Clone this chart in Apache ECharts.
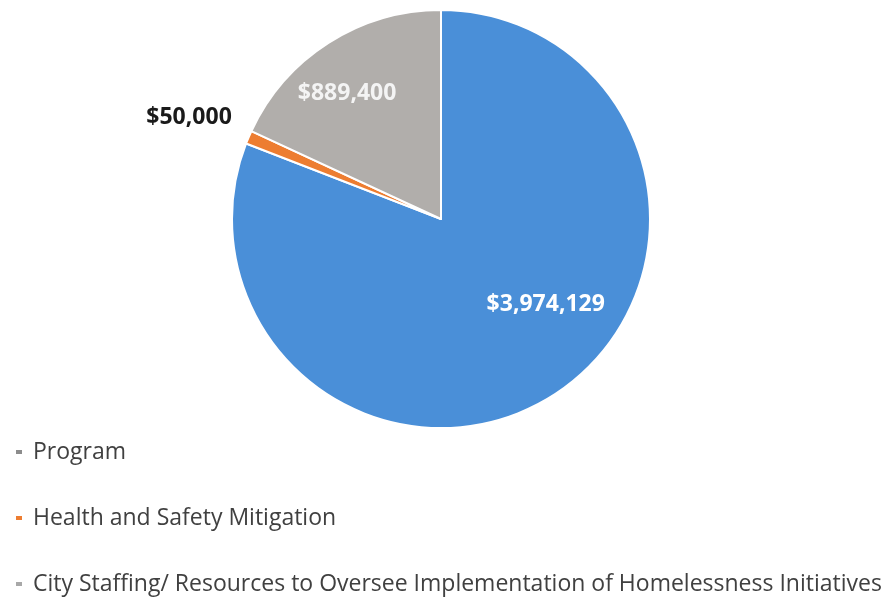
<!DOCTYPE html>
<html>
<head>
<meta charset="utf-8">
<script src="https://cdn.jsdelivr.net/npm/echarts@6/dist/echarts.min.js"></script>
<style>
  html, body { margin: 0; padding: 0; background: #ffffff; }
  #chart { width: 886px; height: 601px; }
</style>
</head>
<body>
<div id="chart"></div>
<script>
// Funding categories and amounts (USD)
const categories = [
  'Program',
  'Health and Safety Mitigation',
  'City Staffing/ Resources to Oversee Implementation of Homelessness Initiatives'
];
const amounts = [3974129, 50000, 889400];

const sliceColors = ['#4a8fd8', '#ed7d31', '#b1aeab'];
const legendColors = ['#8c8c8c', '#ed7d31', '#a8a8a8'];
const labelColors = ['#ffffff', '#1a1a1a', '#f4f4f4'];
// label nudges from the default inside position
const labelShift = [[44, -3], [-153, -60], [-36, -35]];

const fontFamily = '"Open Sans", "Noto Sans", sans-serif';

function money(v) {
  return '$' + v.toString().replace(/\B(?=(\d{3})+(?!\d))/g, ',');
}

const chart = echarts.init(document.getElementById('chart'), null, { renderer: 'canvas' });

chart.setOption({
  animation: false,
  backgroundColor: '#ffffff',
  legend: {
    orient: 'vertical',
    left: 14,
    top: 439,
    height: 200,
    width: 880,
    padding: 0,
    itemWidth: 8,
    itemHeight: 6,
    itemGap: 40,
    icon: 'rect',
    textStyle: {
      fontFamily: fontFamily,
      fontSize: 23,
      color: '#404040',
      lineHeight: 26,
      padding: [0, 0, 0, 5]
    },
    data: categories.map((name, i) => ({
      name: name,
      itemStyle: { color: legendColors[i] }
    }))
  },
  series: [{
    type: 'pie',
    center: [441, 219],
    radius: [0, 209],
    startAngle: 90,
    clockwise: true,
    avoidLabelOverlap: false,
    itemStyle: { borderColor: '#ffffff', borderWidth: 2 },
    label: {
      show: true,
      position: 'inside',
      fontFamily: fontFamily,
      fontSize: 23,
      fontWeight: 'bold',
      formatter: p => money(p.value)
    },
    labelLine: { show: false },
    labelLayout: function (params) {
      const s = labelShift[params.dataIndex];
      return { dx: s[0], dy: s[1] };
    },
    emphasis: { disabled: true },
    data: categories.map((name, i) => ({
      name: name,
      value: amounts[i],
      itemStyle: { color: sliceColors[i] },
      label: { color: labelColors[i] }
    }))
  }]
});
</script>
</body>
</html>
